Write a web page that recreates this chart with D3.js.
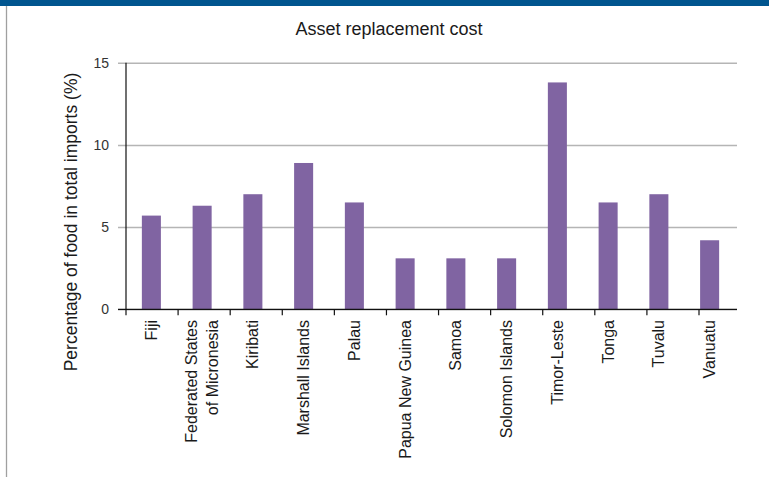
<!DOCTYPE html>
<html>
<head>
<meta charset="utf-8">
<script src="https://cdn.jsdelivr.net/npm/d3@7"></script>
<style>
  body { margin: 0; background: #fff; }
  svg { display: block; }
  text { font-family: "Liberation Sans", Arial, Helvetica, sans-serif; }
</style>
</head>
<body>
<svg id="chart" width="769" height="477"></svg>
<script>
// Share of food in total imports, Pacific economies
const categories = [
  "Fiji",
  "Federated States\nof Micronesia",
  "Kiribati",
  "Marshall Islands",
  "Palau",
  "Papua New Guinea",
  "Samoa",
  "Solomon Islands",
  "Timor-Leste",
  "Tonga",
  "Tuvalu",
  "Vanuatu"
];
const values = [5.7, 6.3, 7.0, 8.9, 6.5, 3.1, 3.1, 3.1, 13.8, 6.5, 7.0, 4.2];
const yTicks = [0, 5, 10, 15];
const chartTitle = "Asset replacement cost";
const yAxisTitle = "Percentage of food in total imports (%)";

const W = 769, H = 477;
const svg = d3.select("#chart");

// page frame: blue band on top, grey rule on the left
svg.append("rect")
  .attr("x", 0).attr("y", 0).attr("width", W).attr("height", 6)
  .attr("fill", "#00558f");
svg.append("line")
  .attr("x1", 6.5).attr("x2", 6.5).attr("y1", 6).attr("y2", H)
  .attr("stroke", "#a0a0a0").attr("stroke-width", 1.3);

// scales
const y = d3.scaleLinear().domain([0, 15]).range([309.3, 62.7]);
const x = d3.scaleBand().domain(categories).range([126, 735])
  .paddingInner(0.625).paddingOuter(0.3125);
const xTick = d3.scalePoint().domain(categories).range([126, 699]);

const gridLeft = 118, gridRight = 737, axisX = 126;

// title
svg.append("text")
  .attr("x", 389).attr("y", 35)
  .attr("text-anchor", "middle")
  .attr("font-size", 18)
  .attr("fill", "#1a1a1a")
  .text(chartTitle);

// horizontal gridlines + y tick labels
const yAxis = svg.append("g")
  .attr("transform", `translate(${gridLeft},0)`)
  .call(d3.axisLeft(y).tickValues(yTicks).tickSize(-(gridRight - gridLeft)).tickPadding(9));
yAxis.select(".domain").remove();
yAxis.selectAll(".tick line").attr("stroke", "#b5b5b5").attr("stroke-width", 1.5);
yAxis.selectAll(".tick text")
  .attr("font-size", 14)
  .attr("fill", "#333")
  .style("font-family", '"Liberation Sans", Arial, Helvetica, sans-serif');

// y axis title
svg.append("text")
  .attr("transform", "translate(71,222) rotate(-90)")
  .attr("text-anchor", "middle")
  .attr("dy", "0.35em")
  .attr("font-size", 17.5)
  .attr("fill", "#1a1a1a")
  .text(yAxisTitle);

// bars
svg.append("g").selectAll("rect")
  .data(categories)
  .join("rect")
  .attr("x", d => x(d))
  .attr("y", (d, i) => y(values[i]))
  .attr("width", x.bandwidth())
  .attr("height", (d, i) => y(0) - y(values[i]))
  .attr("fill", "#8064a2");

// vertical axis line
svg.append("line")
  .attr("x1", axisX).attr("x2", axisX)
  .attr("y1", y(15)).attr("y2", y(0))
  .attr("stroke", "#111").attr("stroke-width", 1.2);

// baseline
svg.append("line")
  .attr("x1", gridLeft).attr("x2", gridRight)
  .attr("y1", y(0)).attr("y2", y(0))
  .attr("stroke", "#111").attr("stroke-width", 1.3);

// category ticks below the baseline
svg.append("g").selectAll("line")
  .data(categories)
  .join("line")
  .attr("x1", d => xTick(d)).attr("x2", d => xTick(d))
  .attr("y1", y(0)).attr("y2", y(0) + 6)
  .attr("stroke", "#111").attr("stroke-width", 1.2);

// category labels, rotated, ending just below the axis
const labelTop = 320;
const labelSize = 16;
const lineGap = 21;
const labels = svg.append("g").selectAll("g")
  .data(categories)
  .join("g")
  .attr("transform", d => `translate(${x(d) + x.bandwidth() / 2},${labelTop}) rotate(-90)`);
labels.each(function(d) {
  const lines = d.split("\n");
  const t = d3.select(this).append("text")
    .attr("text-anchor", "end")
    .attr("font-size", labelSize)
    .attr("fill", "#1a1a1a");
  lines.forEach((ln, k) => {
    const off = (k - (lines.length - 1) / 2) * lineGap + labelSize * 0.35;
    t.append("tspan").attr("x", 0).attr("y", off).text(ln);
  });
});
</script>
</body>
</html>
